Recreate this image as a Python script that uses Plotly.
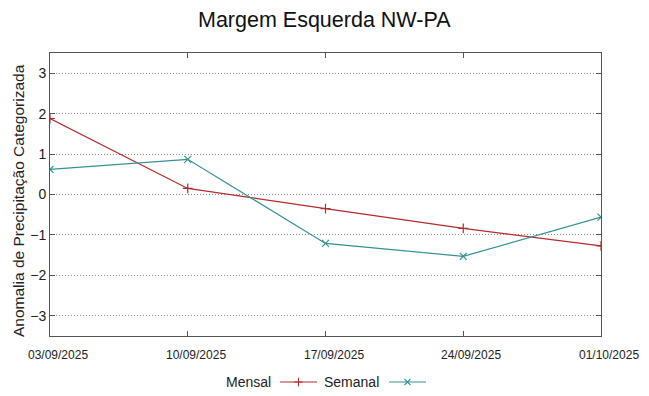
import plotly.graph_objects as go

W, H = 649, 396

dates = ["2025-09-03", "2025-09-10", "2025-09-17", "2025-09-24", "2025-10-01"]
tick_labels = ["03/09/2025", "10/09/2025", "17/09/2025", "24/09/2025", "01/10/2025"]
mensal = [1.88, 0.15, -0.35, -0.84, -1.27]
semanal = [0.62, 0.87, -1.21, -1.53, -0.56]
y_ticks = [-3, -2, -1, 0, 1, 2, 3]

RED = "#b52a2a"
TEAL = "#359292"
FONT = "Liberation Sans, Arial, sans-serif"

# plot area in pixels
L, R, T, B = 50, 601, 53, 336

fig = go.Figure()
fig.add_trace(go.Scatter(
    x=dates, y=mensal, mode="lines+markers", name="Mensal",
    line=dict(color=RED, width=1.2),
    marker=dict(symbol="cross-thin", size=7, line=dict(color=RED, width=1.2)),
    showlegend=False))
fig.add_trace(go.Scatter(
    x=dates, y=semanal, mode="lines+markers", name="Semanal",
    line=dict(color=TEAL, width=1.2),
    marker=dict(symbol="x-thin", size=7, line=dict(color=TEAL, width=1.2)),
    showlegend=False))

# x tick labels (gnuplot-style, slightly offset to the right)
for d, lab in zip(dates, tick_labels):
    fig.add_annotation(xref="x", yref="y2", x=d, y=355, text=lab, showarrow=False,
                       xanchor="center", yanchor="middle", xshift=8,
                       font=dict(family=FONT, size=12, color="#222"))

# manual legend (text first, then key) on an overlay pixel axis
legend_items = [("Mensal", RED, "cross-thin", 273, 280, 317),
                ("Semanal", TEAL, "x-thin", 381, 389, 426)]
ly = 382
for name, col, sym, tx, x0, x1 in legend_items:
    fig.add_shape(type="line", xref="x2", yref="y2", x0=x0, x1=x1, y0=ly, y1=ly,
                  line=dict(color=col, width=1.2))
    fig.add_trace(go.Scatter(
        x=[(x0 + x1) / 2], y=[ly], xaxis="x2", yaxis="y2", mode="markers",
        marker=dict(symbol=sym, size=6, line=dict(color=col, width=1.1)),
        showlegend=False, hoverinfo="skip"))
    fig.add_annotation(xref="x2", yref="y2", x=tx, y=ly, text=name, showarrow=False,
                       xanchor="right", yanchor="middle",
                       font=dict(family=FONT, size=14, color="#222"))

fig.add_annotation(xref="x2", yref="y2", x=W / 2, y=20, text="Margem Esquerda NW-PA",
                   showarrow=False, xanchor="center", yanchor="middle",
                   font=dict(family=FONT, size=21.5, color="#111"))
fig.add_annotation(xref="x2", yref="y2", x=18, y=201,
                   text="Anomalia de Precipitação Categorizada",
                   showarrow=False, textangle=-90, xanchor="center", yanchor="middle",
                   font=dict(family=FONT, size=15.5, color="#222"))

fig.update_layout(
    width=W, height=H,
    margin=dict(l=0, r=0, t=0, b=0),
    plot_bgcolor="rgba(0,0,0,0)", paper_bgcolor="white",
    font=dict(family=FONT, color="#222"),
    showlegend=False,
    xaxis=dict(
        domain=[L / W, R / W], type="date",
        range=[dates[0], dates[-1]],
        tickvals=dates, showticklabels=False,
        ticks="inside", ticklen=5, tickcolor="#555",
        showline=True, linecolor="#555", linewidth=1, mirror="allticks",
        showgrid=False, zeroline=False, automargin=False,
    ),
    yaxis=dict(
        domain=[(H - B) / H, (H - T) / H],
        range=[-3.5, 3.5], tickvals=y_ticks,
        tickfont=dict(size=14, color="#222"),
        ticks="inside", ticklen=5, tickcolor="#555",
        showline=True, linecolor="#555", linewidth=1, mirror="allticks",
        showgrid=True, gridcolor="#8a8a8a", griddash="1px,2px", gridwidth=1,
        zeroline=False, automargin=False,
    ),
    xaxis2=dict(domain=[0, 1], range=[0, W], visible=False, anchor="y2",
                fixedrange=True),
    yaxis2=dict(domain=[0, 1], range=[H, 0], visible=False, anchor="x2",
                fixedrange=True),
)

fig.write_html("out.html", config={"displayModeBar": False},
               post_script="document.body.style.margin='0';")
